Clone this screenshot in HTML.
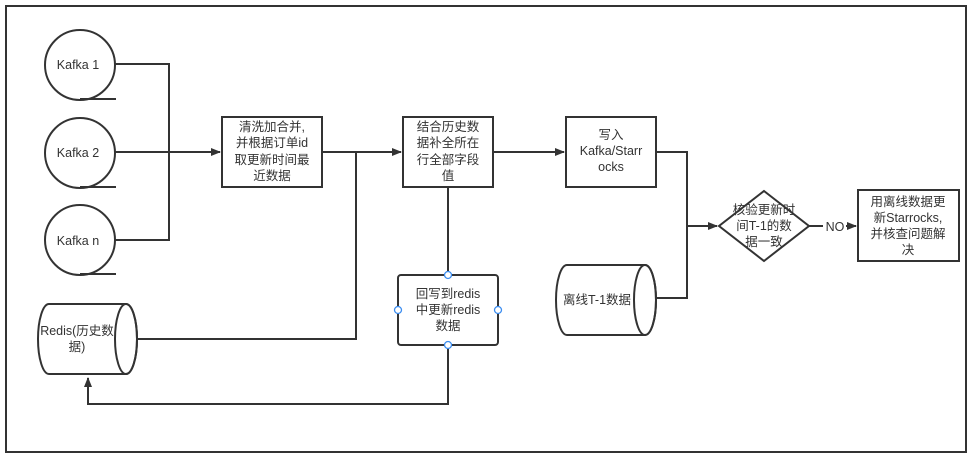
<!DOCTYPE html>
<html><head><meta charset="utf-8"><style>
body{margin:0;background:#fff;}
svg{display:block;font-family:"Liberation Sans","Noto Sans CJK SC",sans-serif;}
text{font-size:12.5px;fill:#333;text-anchor:middle;}
</style></head><body>
<svg width="973" height="455" viewBox="0 0 973 455">
<defs><marker id="a" markerWidth="10" markerHeight="8" refX="9" refY="4" orient="auto" markerUnits="userSpaceOnUse"><path d="M0,0 L10,4 L0,8 Z" fill="#333"/></marker></defs>
<rect x="6" y="6" width="960" height="446" fill="#fff" stroke="#333" stroke-width="2"/>
<g fill="none" stroke="#333" stroke-width="2">
<circle cx="80" cy="65" r="35"/><line x1="80" y1="99" x2="116" y2="99"/>
<circle cx="80" cy="153" r="35"/><line x1="80" y1="187" x2="116" y2="187"/>
<circle cx="80" cy="240" r="35"/><line x1="80" y1="274" x2="116" y2="274"/>
<path d="M115,64 H169 V240 H115"/>
<path d="M115,152 H220" marker-end="url(#a)"/>
<rect x="222" y="117" width="100" height="70"/>
<rect x="403" y="117" width="90" height="70"/>
<path d="M322,152 H401" marker-end="url(#a)"/>
<path d="M356,152 V339 H138"/>
<path d="M49,304 H126 A11,35 0 0 1 126,374 H49 A11,35 0 0 1 49,304 Z"/>
<ellipse cx="126" cy="339" rx="11" ry="35"/>
<path d="M448,187 V275"/>
<rect x="398" y="275" width="100" height="70" rx="3"/>
<path d="M448,345 V404 H88 V378" marker-end="url(#a)"/>
<rect x="566" y="117" width="90" height="70"/>
<path d="M493,152 H564" marker-end="url(#a)"/>
<path d="M656,152 H687 V298 H655"/>
<path d="M687,226 H717" marker-end="url(#a)"/>
<path d="M567,265 H645 A11,35 0 0 1 645,335 H567 A11,35 0 0 1 567,265 Z"/>
<ellipse cx="645" cy="300" rx="11" ry="35"/>
<path d="M764,191 L809,226 L764,261 L719,226 Z"/>
<path d="M809,226 H823"/>
<path d="M846,226 H856" marker-end="url(#a)"/>
<rect x="858" y="190" width="101" height="71"/>
</g>
<g fill="#fff" stroke="#3d8ef0" stroke-width="1.3">
<circle cx="448" cy="275" r="3.5"/><circle cx="448" cy="345" r="3.5"/><circle cx="398" cy="310" r="3.5"/><circle cx="498" cy="310" r="3.5"/>
</g>
<text x="78" y="69">Kafka 1</text>
<text x="78" y="157">Kafka 2</text>
<text x="78" y="245">Kafka n</text>
<text x="272" y="131">清洗加合并,</text>
<text x="272" y="147">并根据订单id</text>
<text x="272" y="164">取更新时间最</text>
<text x="272" y="180">近数据</text>
<text x="448" y="131">结合历史数</text>
<text x="448" y="147">据补全所在</text>
<text x="448" y="164">行全部字段</text>
<text x="448" y="180">值</text>
<text x="77" y="335">Redis(历史数</text>
<text x="77" y="351">据)</text>
<text x="448" y="298">回写到redis</text>
<text x="448" y="314">中更新redis</text>
<text x="448" y="330">数据</text>
<text x="611" y="139">写入</text>
<text x="611" y="155">Kafka/Starr</text>
<text x="611" y="171">ocks</text>
<text x="597" y="304">离线T-1数据</text>
<text x="764" y="214">核验更新时</text>
<text x="764" y="230">间T-1的数</text>
<text x="764" y="246">据一致</text>
<text x="835" y="231">NO</text>
<text x="908" y="206">用离线数据更</text>
<text x="908" y="222">新Starrocks,</text>
<text x="908" y="238">并核查问题解</text>
<text x="908" y="254">决</text>
</svg>
</body></html>
